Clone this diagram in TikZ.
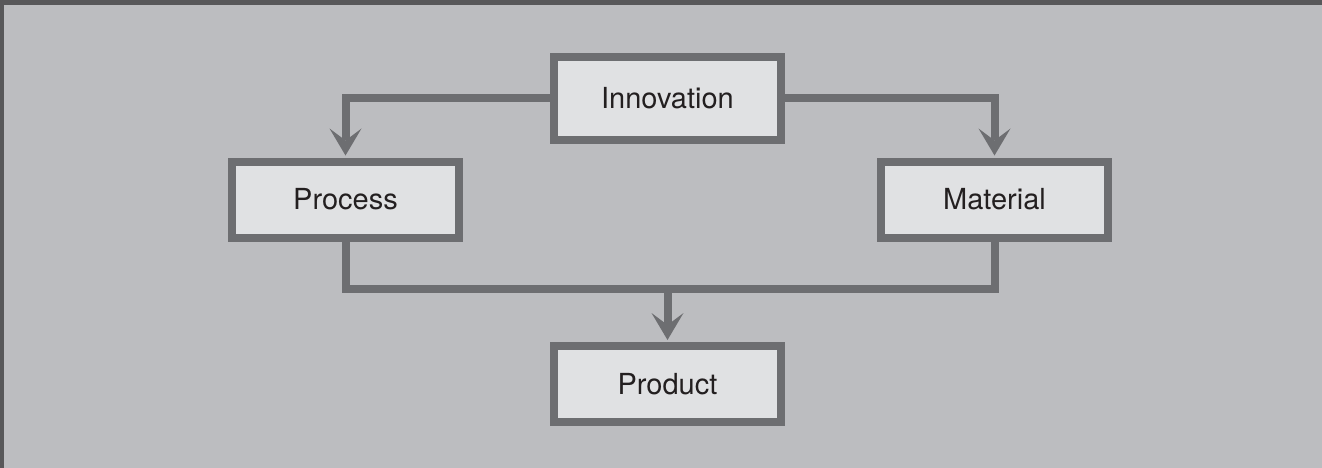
\documentclass[tikz,border=0pt]{standalone}
\usepackage{fontspec}
\setmainfont{TeX Gyre Heros}
\usetikzlibrary{arrows.meta}
\definecolor{panel}{RGB}{188,189,192}
\definecolor{frame}{RGB}{88,88,90}
\definecolor{edge}{RGB}{109,110,113}
\definecolor{boxfill}{RGB}{224,225,227}
\definecolor{ink}{RGB}{35,31,32}
\begin{document}
\begin{tikzpicture}
  [x=1pt, y=-1pt,
   every node/.style={draw=edge, fill=boxfill, line width=8pt, inner sep=0pt,
     minimum width=227pt, minimum height=76pt, text=ink, font=\fontsize{29}{34}\selectfont},
   link/.style={draw=edge, line width=8pt},
   arrow/.style={link, shorten >=2pt,
     -{Stealth[length=27pt, width=32pt, inset=12pt, line width=0pt]}}]
  \fill[panel] (0,0) rectangle (1322,468);
  \fill[frame] (0,0) rectangle (1322,5);
  \fill[frame] (0,0) rectangle (4,468);
  \node (innovation) at (667.5,98.5) [minimum height=83pt] {Innovation};
  \node (process) at (345.5,199.5) {Process};
  \node (material) at (994.5,199.5) {Material};
  \node (product) at (667.5,384) {Product};
  \coordinate (merge) at (667.5,289);
  \draw[arrow] (innovation.west) -| (process.north);
  \draw[arrow] (innovation.east) -| (material.north);
  \draw[link] (process.south) |- (merge) -| (material.south);
  \draw[arrow] (merge) -- (product.north);
\end{tikzpicture}
\end{document}
